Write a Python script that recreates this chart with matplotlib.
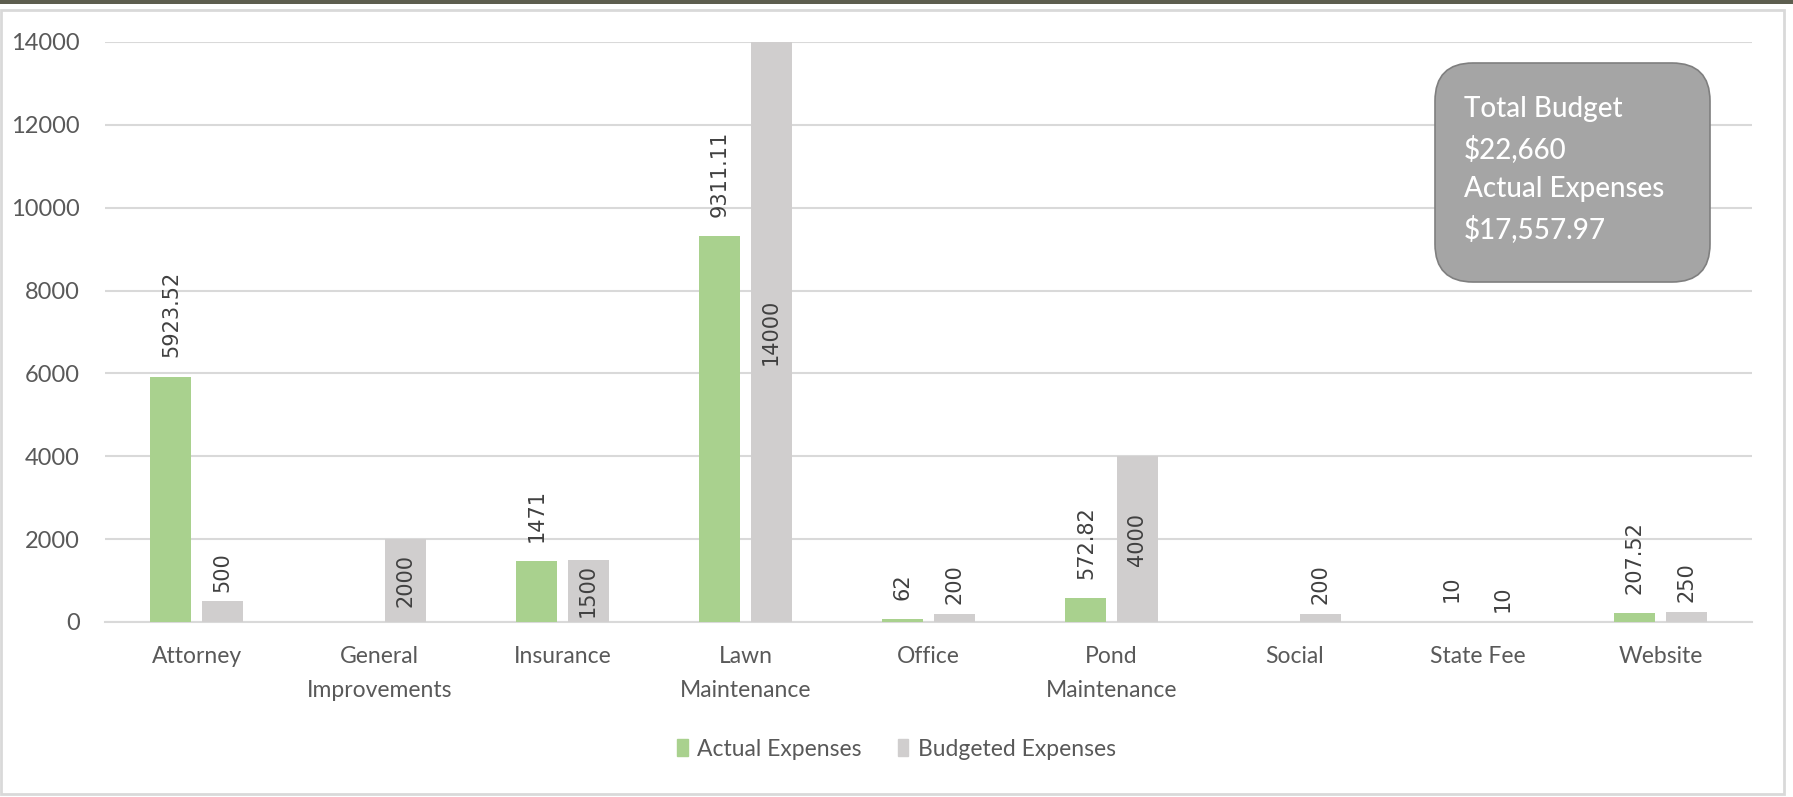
import numpy as np
import matplotlib
matplotlib.use('Agg')
import matplotlib.pyplot as plt
from matplotlib.patches import Patch, FancyBboxPatch, Rectangle

categories = ['Attorney', 'General\nImprovements', 'Insurance', 'Lawn\nMaintenance', 'Office',
              'Pond\nMaintenance', 'Social', 'State Fee', 'Website']
actual = [5923.52, 0, 1471, 9311.11, 62, 572.82, 0, 10, 207.52]
budgeted = [500, 2000, 1500, 14000, 200, 4000, 200, 10, 250]
actual_labels = ['5923.52', '', '1471', '9311.11', '62', '572.82', '', '10', '207.52']
budget_labels = ['500', '2000', '1500', '14000', '200', '4000', '200', '10', '250']
yticks = [0, 2000, 4000, 6000, 8000, 10000, 12000, 14000]
box_lines = ['Total Budget', '$22,660', 'Actual Expenses', '$17,557.97']

green = '#a9d18e'
grey = '#d0cece'
txt = '#595959'
lab = '#404040'

plt.rcParams['font.family'] = ['Lato', 'DejaVu Sans']

W, H = 1793, 797
fig = plt.figure(figsize=(W / 100, H / 100), dpi=100)

# frame and top strip
fig.patches.append(Rectangle((0, H - 4), W, 4, transform=None, facecolor='#5d5e4f', edgecolor='none'))
fig.patches.append(Rectangle((1, 3), W - 10, H - 13, transform=None, facecolor='none',
                             edgecolor='#d9d9d9', linewidth=2))

ax = fig.add_axes([105 / W, 175 / H, 1647 / W, 580 / H])
x = np.arange(len(categories))
bw = 0.225
off = 0.14
ax.bar(x - off, actual, bw, color=green, zorder=3)
ax.bar(x + off, budgeted, bw, color=grey, zorder=3)

for i in range(len(categories)):
    if actual_labels[i]:
        ax.annotate(actual_labels[i], (x[i] - off, actual[i]), xytext=(0, 14), textcoords='offset points',
                    rotation=90, ha='center', va='bottom', fontsize=15, color=lab, family='DejaVu Sans')
    if budgeted[i] >= 1500:
        ax.text(x[i] + off, budgeted[i] / 2, budget_labels[i], rotation=90, ha='center', va='center',
                fontsize=15, color=lab, family='DejaVu Sans', zorder=4)
    else:
        ax.annotate(budget_labels[i], (x[i] + off, budgeted[i]), xytext=(0, 7), textcoords='offset points',
                    rotation=90, ha='center', va='bottom', fontsize=15, color=lab, family='DejaVu Sans')

ax.set_xlim(-0.5, len(categories) - 0.5)
ax.set_ylim(0, 14000)
ax.set_yticks(yticks)
ax.set_yticklabels([str(v) for v in yticks])
ax.set_xticks(x)
ax.set_xticklabels(categories, linespacing=1.8)
ax.tick_params(axis='y', length=0, pad=18, labelsize=17, labelcolor=txt)
ax.tick_params(axis='x', length=0, pad=17, labelsize=16.5, labelcolor=txt)
ax.grid(axis='y', color='#d9d9d9', linewidth=1.5, zorder=0)
for s in ['top', 'right', 'left']:
    ax.spines[s].set_visible(False)
ax.spines['bottom'].set_color('#d9d9d9')
ax.spines['bottom'].set_linewidth(1.5)

handles = [Patch(color=green, label='Actual Expenses'), Patch(color=grey, label='Budgeted Expenses')]
fig.legend(handles=handles, loc='center', bbox_to_anchor=(0.5, 48 / H), ncol=2, frameon=False,
           fontsize=16.5, labelcolor=txt, handlelength=0.45, handleheight=0.8, handletextpad=0.4,
           columnspacing=1.6)

# summary box
box = FancyBboxPatch((1435 / 100, (H - 282) / 100), 2.75, 2.19, boxstyle='round,pad=0,rounding_size=0.38',
                     transform=fig.dpi_scale_trans, facecolor='#a5a5a5', edgecolor='#7f7f7f', linewidth=1.2)
fig.patches.append(box)
for k, line in enumerate(box_lines):
    fig.text(14.64, (H - 109 - 40 * k) / 100, line, transform=fig.dpi_scale_trans, ha='left', va='center',
             fontsize=20, color='white', fontweight='medium')

fig.savefig('out.png', dpi=100)
